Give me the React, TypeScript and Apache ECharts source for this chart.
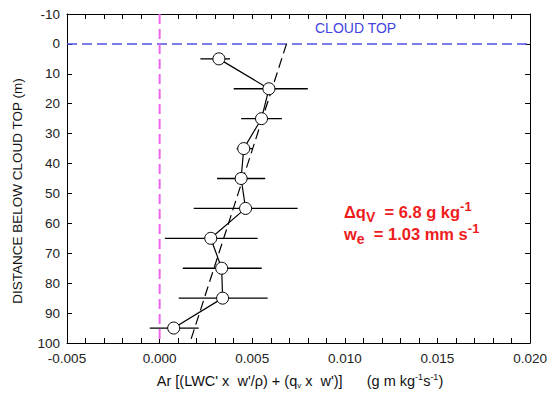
import React, { useEffect, useRef } from "react";
import * as echarts from "echarts";

// Depth below cloud top (m)
const depths = [5, 15, 25, 35, 45, 55, 65, 75, 85, 95];
// Flux values (g m kg^-1 s^-1)
const fluxValues = [0.0032, 0.0059, 0.0055, 0.00454, 0.0044, 0.00464, 0.00276, 0.00335, 0.0034, 0.00076];
// Error bar extents
const errLow = [0.0022, 0.004, 0.0044, 0.00416, 0.0031, 0.00184, 0.00028, 0.00125, 0.00103, -0.00053];
const errHigh = [0.0038, 0.008, 0.0066, 0.005, 0.0057, 0.00745, 0.00529, 0.00551, 0.00583, 0.00211];
// Linear fit (dashed)
const fitFlux = [0.00685, 0.00163];
const fitDepth = [0, 100];
// Reference lines
const cloudTopDepth = 0;
const zeroFlux = 0;
const xRange = [-0.005, 0.02];
const yRange = [-10, 100];

export default function App() {
  const ref = useRef<HTMLDivElement>(null);
  useEffect(() => {
    if (!ref.current) return;
    const chart = echarts.init(ref.current, undefined, { renderer: "svg" });
    const font = "'Liberation Sans', Arial, sans-serif";
    const black = "#000";
    const axisCommon = {
      type: "value" as const,
      axisLine: { show: true, onZero: false, lineStyle: { color: black, width: 1 } },
      splitLine: { show: false },
    };
    const profile = depths.map((d, i) => [fluxValues[i], d]);
    const errData = depths.map((d, i) => [errLow[i], errHigh[i], d]);
    const fitData = fitDepth.map((d, i) => [fitFlux[i], d]);
    const sp = (n: number) => "\u00a0".repeat(n);
    const red = "#ee1c1c";

    chart.setOption({
      animation: false,
      backgroundColor: "#fff",
      grid: { left: 67, right: 18, top: 14, bottom: 59 },
      xAxis: [
        {
          ...axisCommon,
          position: "bottom",
          min: xRange[0],
          max: xRange[1],
          interval: 0.005,
          axisTick: { show: true, inside: true, length: 5, lineStyle: { color: black } },
          minorTick: { show: true, splitNumber: 5, length: 5, lineStyle: { color: black } },
          axisLabel: {
            show: true,
            margin: 8,
            color: "#222",
            fontFamily: font,
            fontSize: 13.5,
            formatter: (v: number) => v.toFixed(3),
          },
        },
        {
          ...axisCommon,
          position: "top",
          min: xRange[0],
          max: xRange[1],
          interval: 0.005,
          axisTick: { show: true, inside: true, length: 5, lineStyle: { color: black } },
          minorTick: { show: true, splitNumber: 5, length: 5, lineStyle: { color: black } },
          axisLabel: { show: false },
        },
      ],
      yAxis: [
        {
          ...axisCommon,
          position: "left",
          inverse: true,
          min: yRange[0],
          max: yRange[1],
          interval: 10,
          axisTick: { show: true, inside: true, length: 5, lineStyle: { color: black } },
          axisLabel: { show: true, margin: 7, color: "#222", fontFamily: font, fontSize: 13.5 },
        },
        {
          ...axisCommon,
          position: "right",
          inverse: true,
          min: yRange[0],
          max: yRange[1],
          interval: 10,
          axisTick: { show: true, inside: true, length: 5, lineStyle: { color: black } },
          axisLabel: { show: false },
        },
      ],
      series: [
        {
          type: "line",
          data: [
            [xRange[0], cloudTopDepth],
            [xRange[1], cloudTopDepth],
          ],
          symbol: "none",
          lineStyle: { color: "#5050e0", width: 1.5, type: [10, 5] },
          silent: true,
          z: 1,
        },
        {
          type: "line",
          data: [
            [zeroFlux, yRange[0]],
            [zeroFlux, yRange[1]],
          ],
          symbol: "none",
          lineStyle: { color: "#ee66ee", width: 2, type: [10, 5] },
          silent: true,
          z: 1,
        },
        {
          type: "line",
          data: fitData,
          symbol: "none",
          lineStyle: { color: black, width: 1.2, type: [10, 5] },
          silent: true,
          z: 2,
        },
        {
          type: "custom",
          data: errData,
          z: 3,
          renderItem: (params: any, api: any) => {
            const p1 = api.coord([api.value(0), api.value(2)]);
            const p2 = api.coord([api.value(1), api.value(2)]);
            return {
              type: "line",
              shape: { x1: p1[0], y1: p1[1], x2: p2[0], y2: p2[1] },
              style: { stroke: black, lineWidth: 1.3 },
            };
          },
        },
        {
          type: "line",
          data: profile,
          symbol: "circle",
          symbolSize: 12,
          itemStyle: { color: "#fff", borderColor: black, borderWidth: 1 },
          lineStyle: { color: black, width: 1.2 },
          z: 4,
        },
      ],
      graphic: [
        {
          type: "text",
          left: 315,
          top: 21,
          style: {
            text: "CLOUD TOP",
            fill: "#4444dd",
            font: `14px ${font}`,
          },
        },
        {
          type: "text",
          x: 17,
          y: 191,
          rotation: Math.PI / 2,
          style: {
            text: "DISTANCE BELOW CLOUD TOP (m)",
            fill: "#111",
            font: `13.5px ${font}`,
            align: "center",
            verticalAlign: "middle",
          },
        },
        {
          type: "text",
          x: 300,
          y: 381,
          style: {
            text:
              `{t|Ar [(LWC' x${sp(2)}w'/\u03c1) + (q}{s|v}{t| x${sp(2)}w')]${sp(6)}(g m kg}{p|-1}{t|s}{p|-1}{t|)}`,
            align: "center",
            verticalAlign: "middle",
            rich: {
              t: { fontSize: 14.5, fontFamily: font, fill: "#111" },
              s: { fontSize: 8, fontFamily: font, fill: "#111", padding: [8, 0, 0, 0] },
              p: { fontSize: 9, fontFamily: font, fill: "#111", padding: [0, 0, 9, 0] },
            },
          },
        },
        {
          type: "text",
          x: 344,
          y: 212,
          style: {
            text: `{m|\u0394q}{s|V}{m|${sp(2)}= 6.8 g kg}{p|-1}`,
            verticalAlign: "middle",
            rich: {
              m: { fontSize: 16.5, fontWeight: "bold", fontFamily: font, fill: red },
              s: { fontSize: 14, fontWeight: "bold", fontFamily: font, fill: red, padding: [10, 0, 0, 0] },
              p: { fontSize: 13, fontWeight: "bold", fontFamily: font, fill: red, padding: [0, 0, 11, 0] },
            },
          },
        },
        {
          type: "text",
          x: 344,
          y: 234,
          style: {
            text: `{m|w}{s|e}{m|${sp(2)}= 1.03 mm s}{p|-1}`,
            verticalAlign: "middle",
            rich: {
              m: { fontSize: 16.5, fontWeight: "bold", fontFamily: font, fill: red },
              s: { fontSize: 14, fontWeight: "bold", fontFamily: font, fill: red, padding: [10, 0, 0, 0] },
              p: { fontSize: 13, fontWeight: "bold", fontFamily: font, fill: red, padding: [0, 0, 11, 0] },
            },
          },
        },
      ],
    });
    return () => chart.dispose();
  }, []);
  return (
    <div
      ref={ref}
      style={{ position: "fixed", left: 0, top: 0, width: 550, height: 402, background: "#fff" }}
    />
  );
}
